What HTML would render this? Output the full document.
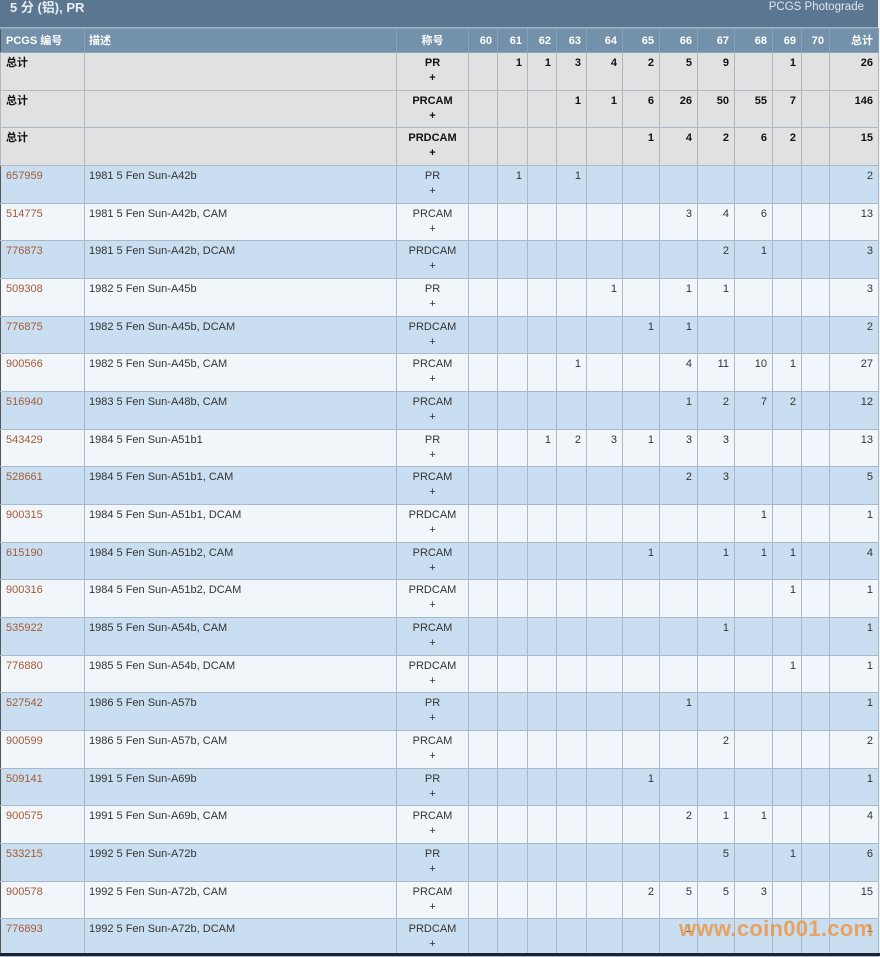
<!DOCTYPE html>
<html><head><meta charset="utf-8">
<style>
html,body{margin:0;padding:0;}
body{width:880px;height:956px;overflow:hidden;background:#eef0f2;position:relative;font-family:"Liberation Sans","Noto Sans CJK SC",sans-serif;}
.band{position:absolute;left:0;top:0;width:878px;height:28px;background:#5b7691;border-bottom:1px solid #9db1c3;box-sizing:border-box;}
.band .t{position:absolute;left:10px;top:0px;font-size:13px;font-weight:bold;color:#e8eef4;line-height:16px;}
.band .r{position:absolute;right:14px;top:0px;font-size:11.5px;color:#dde6ee;line-height:15px;}
table{position:absolute;left:0;top:28px;width:878px;border-collapse:collapse;table-layout:fixed;font-size:11px;}
td,th{border:1px solid #a9b9c9;padding:3px 5px 0 5px;vertical-align:top;line-height:15px;overflow:hidden;white-space:nowrap;text-align:right;color:#333;}
th{background:#7391ab;color:#fff;font-weight:bold;vertical-align:middle;padding-top:2px;border-color:#8aa2b8;height:24px;box-sizing:border-box;}
td:first-child,th:first-child{border-left:1px solid #555;text-align:left;padding-left:5px;}
td:nth-child(2),th:nth-child(2){text-align:left;padding-left:4px;}
td:nth-child(3),th:nth-child(3){text-align:center;padding-left:0;padding-right:0;}
tr.s td{background:#e1e1e1;font-weight:bold;color:#111;border-color:#aeb8c2;}
tr.b td{background:#c9dff1;}
tr.w td{background:#f1f6fa;}
tr.h38{height:38px;}
tr.h37{height:37px;}
a{color:#a55a36;text-decoration:none;}
.wm{position:absolute;left:679px;top:916px;font-size:22px;font-weight:bold;color:rgba(236,150,70,0.85);letter-spacing:0.3px;}
.bot{position:absolute;left:0;top:953px;width:880px;height:3px;background:#1c2433;}
</style></head><body>
<div class="band"><div class="t">5 分 (铝), PR</div><div class="r">PCGS Photograde</div></div>
<table>
<colgroup><col style="width:84px"><col style="width:312px"><col style="width:72px"><col style="width:29px"><col style="width:30px"><col style="width:29px"><col style="width:30px"><col style="width:36px"><col style="width:37px"><col style="width:38px"><col style="width:37px"><col style="width:38px"><col style="width:29px"><col style="width:28px"><col style="width:49px"></colgroup>
<tr><th>PCGS 编号</th><th>描述</th><th>称号</th><th>60</th><th>61</th><th>62</th><th>63</th><th>64</th><th>65</th><th>66</th><th>67</th><th>68</th><th>69</th><th>70</th><th>总计</th></tr>
<tr class="s h38"><td>总计</td><td></td><td>PR<br>+</td><td></td><td>1</td><td>1</td><td>3</td><td>4</td><td>2</td><td>5</td><td>9</td><td></td><td>1</td><td></td><td>26</td></tr>
<tr class="s h37"><td>总计</td><td></td><td>PRCAM<br>+</td><td></td><td></td><td></td><td>1</td><td>1</td><td>6</td><td>26</td><td>50</td><td>55</td><td>7</td><td></td><td>146</td></tr>
<tr class="s h38"><td>总计</td><td></td><td>PRDCAM<br>+</td><td></td><td></td><td></td><td></td><td></td><td>1</td><td>4</td><td>2</td><td>6</td><td>2</td><td></td><td>15</td></tr>
<tr class="b h38"><td><a>657959</a></td><td>1981 5 Fen Sun-A42b</td><td>PR<br>+</td><td></td><td>1</td><td></td><td>1</td><td></td><td></td><td></td><td></td><td></td><td></td><td></td><td>2</td></tr>
<tr class="w h37"><td><a>514775</a></td><td>1981 5 Fen Sun-A42b, CAM</td><td>PRCAM<br>+</td><td></td><td></td><td></td><td></td><td></td><td></td><td>3</td><td>4</td><td>6</td><td></td><td></td><td>13</td></tr>
<tr class="b h38"><td><a>776873</a></td><td>1981 5 Fen Sun-A42b, DCAM</td><td>PRDCAM<br>+</td><td></td><td></td><td></td><td></td><td></td><td></td><td></td><td>2</td><td>1</td><td></td><td></td><td>3</td></tr>
<tr class="w h38"><td><a>509308</a></td><td>1982 5 Fen Sun-A45b</td><td>PR<br>+</td><td></td><td></td><td></td><td></td><td>1</td><td></td><td>1</td><td>1</td><td></td><td></td><td></td><td>3</td></tr>
<tr class="b h37"><td><a>776875</a></td><td>1982 5 Fen Sun-A45b, DCAM</td><td>PRDCAM<br>+</td><td></td><td></td><td></td><td></td><td></td><td>1</td><td>1</td><td></td><td></td><td></td><td></td><td>2</td></tr>
<tr class="w h38"><td><a>900566</a></td><td>1982 5 Fen Sun-A45b, CAM</td><td>PRCAM<br>+</td><td></td><td></td><td></td><td>1</td><td></td><td></td><td>4</td><td>11</td><td>10</td><td>1</td><td></td><td>27</td></tr>
<tr class="b h38"><td><a>516940</a></td><td>1983 5 Fen Sun-A48b, CAM</td><td>PRCAM<br>+</td><td></td><td></td><td></td><td></td><td></td><td></td><td>1</td><td>2</td><td>7</td><td>2</td><td></td><td>12</td></tr>
<tr class="w h37"><td><a>543429</a></td><td>1984 5 Fen Sun-A51b1</td><td>PR<br>+</td><td></td><td></td><td>1</td><td>2</td><td>3</td><td>1</td><td>3</td><td>3</td><td></td><td></td><td></td><td>13</td></tr>
<tr class="b h38"><td><a>528661</a></td><td>1984 5 Fen Sun-A51b1, CAM</td><td>PRCAM<br>+</td><td></td><td></td><td></td><td></td><td></td><td></td><td>2</td><td>3</td><td></td><td></td><td></td><td>5</td></tr>
<tr class="w h38"><td><a>900315</a></td><td>1984 5 Fen Sun-A51b1, DCAM</td><td>PRDCAM<br>+</td><td></td><td></td><td></td><td></td><td></td><td></td><td></td><td></td><td>1</td><td></td><td></td><td>1</td></tr>
<tr class="b h37"><td><a>615190</a></td><td>1984 5 Fen Sun-A51b2, CAM</td><td>PRCAM<br>+</td><td></td><td></td><td></td><td></td><td></td><td>1</td><td></td><td>1</td><td>1</td><td>1</td><td></td><td>4</td></tr>
<tr class="w h38"><td><a>900316</a></td><td>1984 5 Fen Sun-A51b2, DCAM</td><td>PRDCAM<br>+</td><td></td><td></td><td></td><td></td><td></td><td></td><td></td><td></td><td></td><td>1</td><td></td><td>1</td></tr>
<tr class="b h38"><td><a>535922</a></td><td>1985 5 Fen Sun-A54b, CAM</td><td>PRCAM<br>+</td><td></td><td></td><td></td><td></td><td></td><td></td><td></td><td>1</td><td></td><td></td><td></td><td>1</td></tr>
<tr class="w h37"><td><a>776880</a></td><td>1985 5 Fen Sun-A54b, DCAM</td><td>PRDCAM<br>+</td><td></td><td></td><td></td><td></td><td></td><td></td><td></td><td></td><td></td><td>1</td><td></td><td>1</td></tr>
<tr class="b h38"><td><a>527542</a></td><td>1986 5 Fen Sun-A57b</td><td>PR<br>+</td><td></td><td></td><td></td><td></td><td></td><td></td><td>1</td><td></td><td></td><td></td><td></td><td>1</td></tr>
<tr class="w h38"><td><a>900599</a></td><td>1986 5 Fen Sun-A57b, CAM</td><td>PRCAM<br>+</td><td></td><td></td><td></td><td></td><td></td><td></td><td></td><td>2</td><td></td><td></td><td></td><td>2</td></tr>
<tr class="b h37"><td><a>509141</a></td><td>1991 5 Fen Sun-A69b</td><td>PR<br>+</td><td></td><td></td><td></td><td></td><td></td><td>1</td><td></td><td></td><td></td><td></td><td></td><td>1</td></tr>
<tr class="w h38"><td><a>900575</a></td><td>1991 5 Fen Sun-A69b, CAM</td><td>PRCAM<br>+</td><td></td><td></td><td></td><td></td><td></td><td></td><td>2</td><td>1</td><td>1</td><td></td><td></td><td>4</td></tr>
<tr class="b h38"><td><a>533215</a></td><td>1992 5 Fen Sun-A72b</td><td>PR<br>+</td><td></td><td></td><td></td><td></td><td></td><td></td><td></td><td>5</td><td></td><td>1</td><td></td><td>6</td></tr>
<tr class="w h37"><td><a>900578</a></td><td>1992 5 Fen Sun-A72b, CAM</td><td>PRCAM<br>+</td><td></td><td></td><td></td><td></td><td></td><td>2</td><td>5</td><td>5</td><td>3</td><td></td><td></td><td>15</td></tr>
<tr class="b h38"><td><a>776893</a></td><td>1992 5 Fen Sun-A72b, DCAM</td><td>PRDCAM<br>+</td><td></td><td></td><td></td><td></td><td></td><td></td><td>1</td><td></td><td></td><td></td><td></td><td>1</td></tr>
</table>
<div class="wm">www.coin001.com</div>
<div class="bot"></div>
</body></html>
